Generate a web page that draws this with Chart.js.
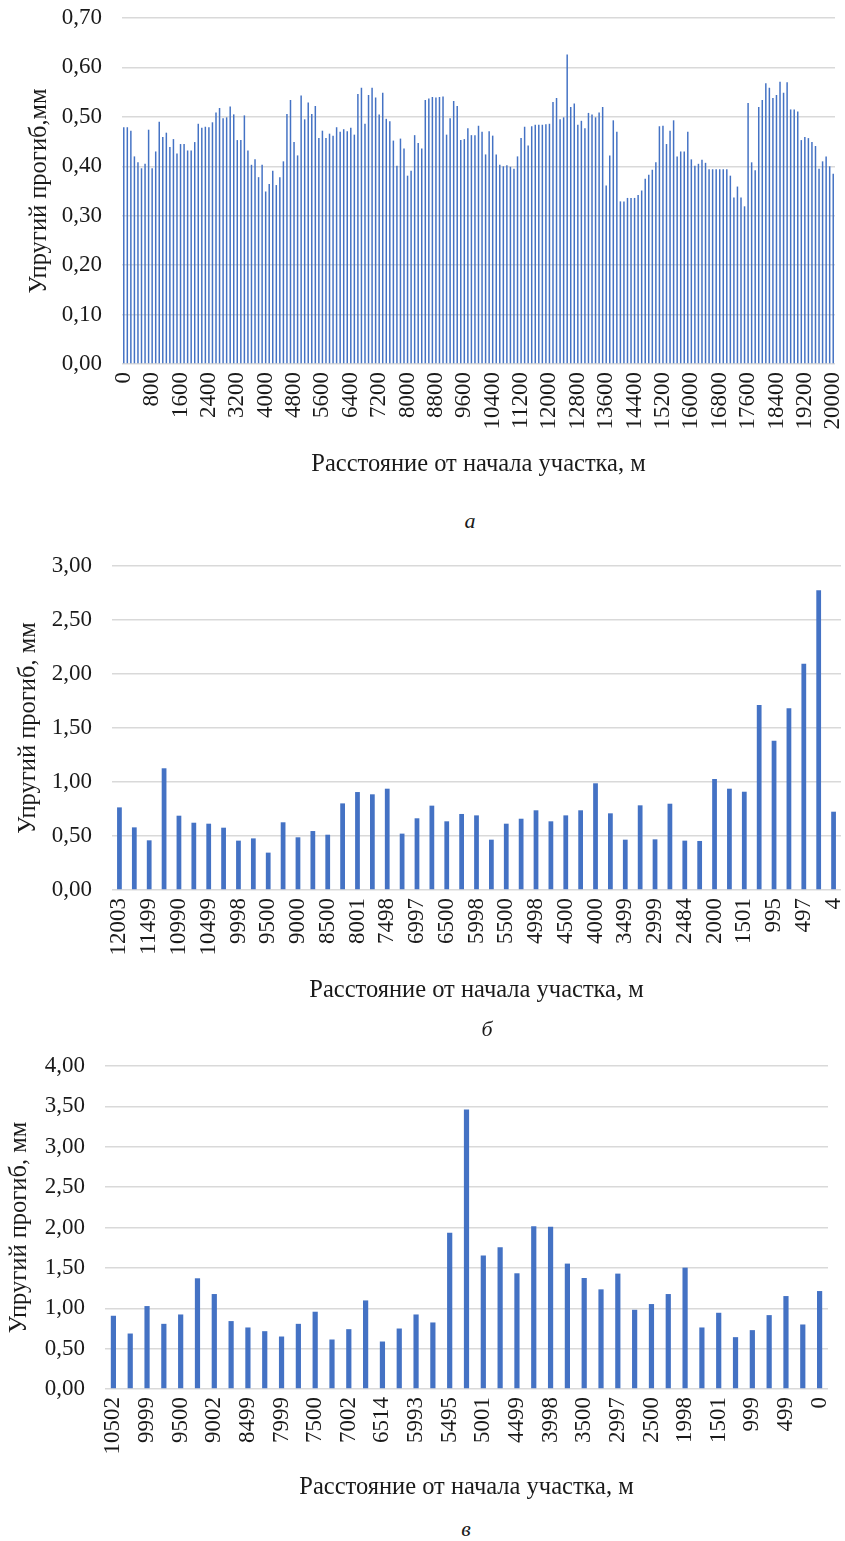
<!DOCTYPE html>
<html>
<head>
<meta charset="utf-8">
<script src="https://cdn.jsdelivr.net/npm/chart.js@4"></script>
<style>
  body { margin: 0; background: #fff; width: 845px; height: 1541px; position: relative; overflow: hidden; }
  canvas { position: absolute; left: 0; }
  .cap { position: absolute; font-family: 'Liberation Serif', 'Times New Roman', serif; font-style: italic; font-size: 22px; color: #1a1a1a; transform: translateX(-50%); }
</style>
</head>
<body>
<canvas id="chartA" width="845" height="485" style="top:0px"></canvas>
<canvas id="chartB" width="845" height="471" style="top:540px"></canvas>
<canvas id="chartC" width="845" height="468" style="top:1040px"></canvas>
<div class="cap" style="left:470px; top:508px;">а</div>
<div class="cap" style="left:487px; top:1016px;">б</div>
<div class="cap" style="left:466px; top:1516px;">в</div>
<script>
// --- chart a: 0..20000 m, step 100 m
const distA = [
  0, 100, 200, 300, 400, 500, 600, 700, 800, 900,
  1000, 1100, 1200, 1300, 1400, 1500, 1600, 1700, 1800, 1900,
  2000, 2100, 2200, 2300, 2400, 2500, 2600, 2700, 2800, 2900,
  3000, 3100, 3200, 3300, 3400, 3500, 3600, 3700, 3800, 3900,
  4000, 4100, 4200, 4300, 4400, 4500, 4600, 4700, 4800, 4900,
  5000, 5100, 5200, 5300, 5400, 5500, 5600, 5700, 5800, 5900,
  6000, 6100, 6200, 6300, 6400, 6500, 6600, 6700, 6800, 6900,
  7000, 7100, 7200, 7300, 7400, 7500, 7600, 7700, 7800, 7900,
  8000, 8100, 8200, 8300, 8400, 8500, 8600, 8700, 8800, 8900,
  9000, 9100, 9200, 9300, 9400, 9500, 9600, 9700, 9800, 9900,
  10000, 10100, 10200, 10300, 10400, 10500, 10600, 10700, 10800, 10900,
  11000, 11100, 11200, 11300, 11400, 11500, 11600, 11700, 11800, 11900,
  12000, 12100, 12200, 12300, 12400, 12500, 12600, 12700, 12800, 12900,
  13000, 13100, 13200, 13300, 13400, 13500, 13600, 13700, 13800, 13900,
  14000, 14100, 14200, 14300, 14400, 14500, 14600, 14700, 14800, 14900,
  15000, 15100, 15200, 15300, 15400, 15500, 15600, 15700, 15800, 15900,
  16000, 16100, 16200, 16300, 16400, 16500, 16600, 16700, 16800, 16900,
  17000, 17100, 17200, 17300, 17400, 17500, 17600, 17700, 17800, 17900,
  18000, 18100, 18200, 18300, 18400, 18500, 18600, 18700, 18800, 18900,
  19000, 19100, 19200, 19300, 19400, 19500, 19600, 19700, 19800, 19900,
  20000
];
const deflA = [
  0.479, 0.479, 0.472, 0.420, 0.408, 0.396, 0.405, 0.474, 0.396, 0.430,
  0.490, 0.459, 0.468, 0.439, 0.455, 0.426, 0.445, 0.445, 0.432, 0.432,
  0.449, 0.486, 0.478, 0.480, 0.479, 0.489, 0.509, 0.518, 0.497, 0.499,
  0.521, 0.505, 0.453, 0.453, 0.503, 0.432, 0.403, 0.414, 0.378, 0.403,
  0.349, 0.364, 0.391, 0.362, 0.378, 0.410, 0.506, 0.534, 0.449, 0.422,
  0.543, 0.495, 0.529, 0.506, 0.522, 0.457, 0.472, 0.457, 0.466, 0.462,
  0.479, 0.470, 0.475, 0.471, 0.478, 0.464, 0.546, 0.559, 0.486, 0.544,
  0.559, 0.539, 0.505, 0.549, 0.496, 0.491, 0.452, 0.401, 0.456, 0.436,
  0.381, 0.391, 0.463, 0.447, 0.436, 0.534, 0.537, 0.540, 0.539, 0.540,
  0.541, 0.464, 0.497, 0.532, 0.522, 0.453, 0.455, 0.477, 0.463, 0.463,
  0.482, 0.470, 0.424, 0.471, 0.462, 0.424, 0.403, 0.400, 0.402, 0.399,
  0.395, 0.420, 0.457, 0.480, 0.442, 0.481, 0.484, 0.484, 0.484, 0.485,
  0.486, 0.530, 0.538, 0.495, 0.499, 0.626, 0.520, 0.527, 0.484, 0.492,
  0.477, 0.508, 0.505, 0.499, 0.509, 0.520, 0.361, 0.422, 0.493, 0.470,
  0.329, 0.329, 0.336, 0.336, 0.336, 0.342, 0.351, 0.375, 0.383, 0.393,
  0.408, 0.481, 0.482, 0.445, 0.472, 0.493, 0.420, 0.430, 0.430, 0.470,
  0.414, 0.401, 0.405, 0.413, 0.407, 0.394, 0.394, 0.394, 0.394, 0.394,
  0.394, 0.381, 0.337, 0.359, 0.337, 0.319, 0.528, 0.408, 0.392, 0.520,
  0.534, 0.568, 0.559, 0.538, 0.544, 0.571, 0.549, 0.570, 0.515, 0.515,
  0.511, 0.453, 0.459, 0.457, 0.449, 0.441, 0.395, 0.410, 0.420, 0.400,
  0.385
];

// --- chart б
const distB = [
  12003, 11750, 11499, 11245, 10990, 10745, 10499, 10250, 9998, 9750,
  9500, 9250, 9000, 8750, 8500, 8250, 8001, 7750, 7498, 7250,
  6997, 6750, 6500, 6250, 5998, 5750, 5500, 5250, 4998, 4750,
  4500, 4250, 4000, 3750, 3499, 3250, 2999, 2750, 2484, 2250,
  2000, 1750, 1501, 1250, 995, 750, 497, 250, 4
];
const deflB = [
  0.765, 0.580, 0.460, 1.127, 0.688, 0.623, 0.614, 0.577, 0.457, 0.478,
  0.346, 0.627, 0.488, 0.546, 0.512, 0.802, 0.907, 0.886, 0.938, 0.522,
  0.664, 0.781, 0.636, 0.704, 0.691, 0.466, 0.614, 0.660, 0.738, 0.636,
  0.691, 0.738, 0.988, 0.710, 0.466, 0.784, 0.469, 0.799, 0.457, 0.454,
  1.028, 0.938, 0.910, 1.713, 1.383, 1.682, 2.096, 2.775, 0.725
];

// --- chart в
const distC = [
  10502, 10250, 9999, 9750, 9500, 9250, 9002, 8750, 8499, 8250,
  7999, 7750, 7500, 7250, 7002, 6750, 6514, 6250, 5993, 5750,
  5495, 5250, 5001, 4750, 4499, 4250, 3998, 3750, 3500, 3250,
  2997, 2750, 2500, 2250, 1998, 1750, 1501, 1250, 999, 750,
  499, 250, 0
];
const deflC = [
  0.907, 0.687, 1.027, 0.807, 0.923, 1.371, 1.176, 0.841, 0.762, 0.716,
  0.650, 0.807, 0.957, 0.613, 0.741, 1.097, 0.588, 0.749, 0.923, 0.824,
  1.934, 3.460, 1.652, 1.756, 1.433, 2.017, 2.008, 1.553, 1.375, 1.234,
  1.429, 0.981, 1.052, 1.176, 1.503, 0.762, 0.944, 0.642, 0.729, 0.915,
  1.151, 0.799, 1.213
];

const FONT = "'Liberation Serif', 'Times New Roman', serif";
const TXT = '#1a1a1a';
const xTitle = 'Расстояние от начала участка, м';

// drop the automatic label padding so the plot area sits where we put it
function noPad(s) {
  s.paddingTop = 0;
  s.paddingBottom = 0;
  s.paddingLeft = 0;
  s.paddingRight = 0;
}

function makeChart(id, cfg) {
  const ctx = document.getElementById(id).getContext('2d');
  return new Chart(ctx, {
    type: 'bar',
    data: {
      labels: cfg.labels.map(String),
      datasets: [{
        data: cfg.values,
        backgroundColor: '#4472C4',
        borderWidth: 0,
        barPercentage: cfg.barPct,
        categoryPercentage: 1,
      }],
    },
    options: {
      responsive: false,
      animation: false,
      layout: {
        autoPadding: false,
        padding: { top: cfg.top, right: cfg.right, left: 0, bottom: 0 },
      },
      plugins: {
        legend: { display: false },
        tooltip: { enabled: false },
      },
      scales: {
        x: {
          grid: { display: false, drawTicks: false },
          border: { display: false },
          afterFit: (s) => { s.height = cfg.xHeight; noPad(s); },
          ticks: {
            autoSkip: false,
            maxRotation: 90,
            minRotation: 90,
            padding: 8,
            color: TXT,
            font: { family: FONT, size: 23 },
            callback: function (v, i) {
              return i % cfg.every === 0 ? this.getLabelForValue(v) : '';
            },
          },
          title: {
            display: true,
            text: xTitle,
            color: TXT,
            font: { family: FONT, size: 24.5 },
            padding: { top: 0, bottom: 6 },
          },
        },
        y: {
          min: 0,
          max: cfg.max,
          grid: { color: '#d9d9d9', lineWidth: 1.5, drawTicks: false },
          border: { display: false },
          afterFit: (s) => { s.width = cfg.left; noPad(s); },
          ticks: {
            stepSize: cfg.step,
            padding: 20,
            color: TXT,
            font: { family: FONT, size: 23 },
            callback: (v) => Number(v).toFixed(2).replace('.', ','),
          },
          title: {
            display: true,
            text: cfg.yTitle,
            color: TXT,
            font: { family: FONT, size: 24.5 },
            padding: { top: cfg.yTitlePad, bottom: 0 },
          },
        },
      },
    },
  });
}

makeChart('chartA', {
  labels: distA, values: deflA, barPct: 0.42, every: 8,
  max: 0.7, step: 0.1, top: 18, right: 10, left: 122, xHeight: 121,
  yTitle: 'Упругий прогиб,мм', yTitlePad: 25,
});
makeChart('chartB', {
  labels: distB, values: deflB, barPct: 0.32, every: 2,
  max: 3, step: 0.5, top: 26, right: 4, left: 112, xHeight: 121,
  yTitle: 'Упругий прогиб, мм', yTitlePad: 14,
});
makeChart('chartC', {
  labels: distC, values: deflC, barPct: 0.31, every: 2,
  max: 4, step: 0.5, top: 26, right: 17, left: 105, xHeight: 119,
  yTitle: 'Упругий прогиб, мм', yTitlePad: 5,
});
</script>
</body>
</html>
